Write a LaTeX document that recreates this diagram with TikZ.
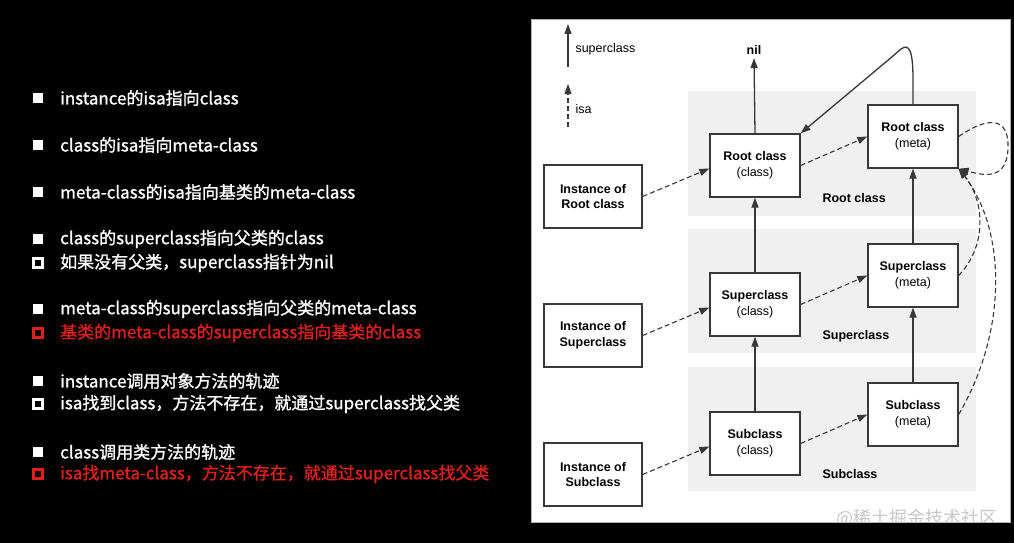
\documentclass[tikz,border=0pt]{standalone}
\usepackage{fontspec}
\usetikzlibrary{arrows.meta}
\newfontfamily\cjk[FakeBold=1.2]{Noto Sans CJK SC}
\newfontfamily\cjkmark{Noto Sans CJK SC}
\newfontfamily\diag{Liberation Sans}
\definecolor{linec}{rgb}{.22,.22,.22}
\definecolor{bandc}{rgb}{.94,.94,.94}
\definecolor{redc}{rgb}{.88,.12,.12}
\definecolor{markc}{rgb}{.78,.78,.78}

\tikzset{
  clsbox/.style={draw=linec, line width=1.3pt, fill=white, minimum width=90pt, minimum height=63pt,
    inner sep=2pt, align=center, font=\diag\fontsize{12.5}{15.5}\selectfont},
  instbox/.style={clsbox, minimum width=98pt},
  superline/.style={draw=linec, line width=1.3pt, -{Triangle[length=10pt,width=7pt]}},
  isaline/.style={superline, line width=1.1pt, dash pattern=on 5pt off 3pt},
  bandlabel/.style={anchor=west, font=\diag\bfseries\fontsize{12.5}{15}\selectfont},
  note/.style={anchor=west, text=white, inner sep=0pt, font=\cjk\fontsize{17}{20}\selectfont},
  fullbullet/.style={fill=white, minimum size=10pt, inner sep=0pt},
  openbullet/.style={draw=white, line width=3pt, minimum size=9pt, inner sep=0pt}
}

\begin{document}
\begin{tikzpicture}[x=1pt, y=-1pt]
\fill[black] (0,0) rectangle (1014,543);
\fill[white] (531,19) rectangle (1010,522);
\draw[gray!60, line width=.8pt] (531,19) rectangle (1010,522);

\node[fullbullet] (b1) at (38,98) {};
\node[note] (t1) at (60,98) {instance的isa指向class};
\node[fullbullet] (b2) at (38,145) {};
\node[note] (t2) at (60,145) {class的isa指向meta-class};
\node[fullbullet] (b3) at (38,192) {};
\node[note] (t3) at (60,192) {meta-class的isa指向基类的meta-class};
\node[fullbullet] (b4) at (38,239) {};
\node[note] (t4) at (60,239) {class的superclass指向父类的class};
\node[openbullet] (b5) at (38,263) {};
\node[note] (t5) at (60,263) {如果没有父类，superclass指针为nil};
\node[fullbullet] (b6) at (38,309) {};
\node[note] (t6) at (60,309) {meta-class的superclass指向父类的meta-class};
\node[openbullet, draw=redc] (b7) at (38,333) {};
\node[note, text=redc] (t7) at (60,333) {基类的meta-class的superclass指向基类的class};
\node[fullbullet] (b8) at (38,381) {};
\node[note] (t8) at (60,381) {instance调用对象方法的轨迹};
\node[openbullet] (b9) at (38,404) {};
\node[note] (t9) at (60,404) {isa找到class，方法不存在，就通过superclass找父类};
\node[fullbullet] (b10) at (38,452) {};
\node[note] (t10) at (60,452) {class调用类方法的轨迹};
\node[openbullet, draw=redc] (b11) at (38,474) {};
\node[note, text=redc] (t11) at (60,474) {isa找meta-class，方法不存在，就通过superclass找父类};

\fill[bandc] (688,91) rectangle (976,216);
\fill[bandc] (688,229) rectangle (976,353);
\fill[bandc] (688,367) rectangle (976,491);
\node[bandlabel] (lroot) at (819,198) {Root class};
\node[bandlabel] (lsuper) at (819,336) {Superclass};
\node[bandlabel] (lsub) at (819,474) {Subclass};

\coordinate (sfoot) at (568,67);
\coordinate (shead) at (568,24);
\coordinate (ifoot) at (568,127);
\coordinate (ihead) at (568,84);
\draw[superline] (sfoot) -- (shead);
\draw[isaline] (ifoot) -- (ihead);
\node[anchor=west, font=\diag\fontsize{12.5}{15}\selectfont] (lsuperclass) at (572,49) {superclass};
\node[anchor=west, font=\diag\fontsize{12.5}{15}\selectfont] (lisa) at (572,109) {isa};

\node[instbox] (i1) at (593,196.5) {\bfseries Instance of\\\bfseries Root class};
\node[instbox] (i2) at (593,335.5) {\bfseries Instance of\\\bfseries Superclass};
\node[instbox] (i3) at (593,474.5) {\bfseries Instance of\\\bfseries Subclass};

\node[clsbox] (c1) at (755,165.5) {\textbf{Root class}\\(class)};
\node[clsbox] (c2) at (755,304.5) {\textbf{Superclass}\\(class)};
\node[clsbox] (c3) at (755,443.5) {\textbf{Subclass}\\(class)};

\node[clsbox] (m1) at (913,136.5) {\textbf{Root class}\\(meta)};
\node[clsbox] (m2) at (913,275.5) {\textbf{Superclass}\\(meta)};
\node[clsbox] (m3) at (913,414.5) {\textbf{Subclass}\\(meta)};

\node[font=\diag\bfseries\fontsize{12.5}{15}\selectfont] (nil) at (754,50) {nil};

\draw[superline] (c1.north) -- (nil.south);
\draw[superline] (c3) -- (c2);
\draw[superline] (c2) -- (c1);
\draw[superline] (m3) -- (m2);
\draw[superline] (m2) -- (m1);
\draw[superline] (m1.north) -- (913,80) .. controls (913,35) and (904,46) .. (893,56) -- (c1.north east);

\draw[isaline] (i1.east) -- ([yshift=-3pt]c1.west);
\draw[isaline] (i2.east) -- ([yshift=-3pt]c2.west);
\draw[isaline] (i3.east) -- ([yshift=-3pt]c3.west);
\draw[isaline] (c1.east) -- (m1.west);
\draw[isaline] (c2.east) -- (m2.west);
\draw[isaline] (c3.east) -- (m3.west);
\draw[isaline] (m1.east) .. controls (990,115) and (1009,118) .. (1008,148)
  .. controls (1007,180) and (985,176) .. (m1.south east);
\draw[isaline] (m2.east) .. controls (988,245) and (984,200) .. (m1.south east);
\draw[isaline] (m3.east) .. controls (1008,330) and (1006,230) .. (m1.south east);

\begin{scope}
\clip (531,19) rectangle (1010,522);
\node[anchor=west, text=markc, inner sep=0pt, font=\cjkmark\fontsize{18}{20}\selectfont] (mark) at (836,518) {@稀土掘金技术社区};
\end{scope}
\end{tikzpicture}
\end{document}
